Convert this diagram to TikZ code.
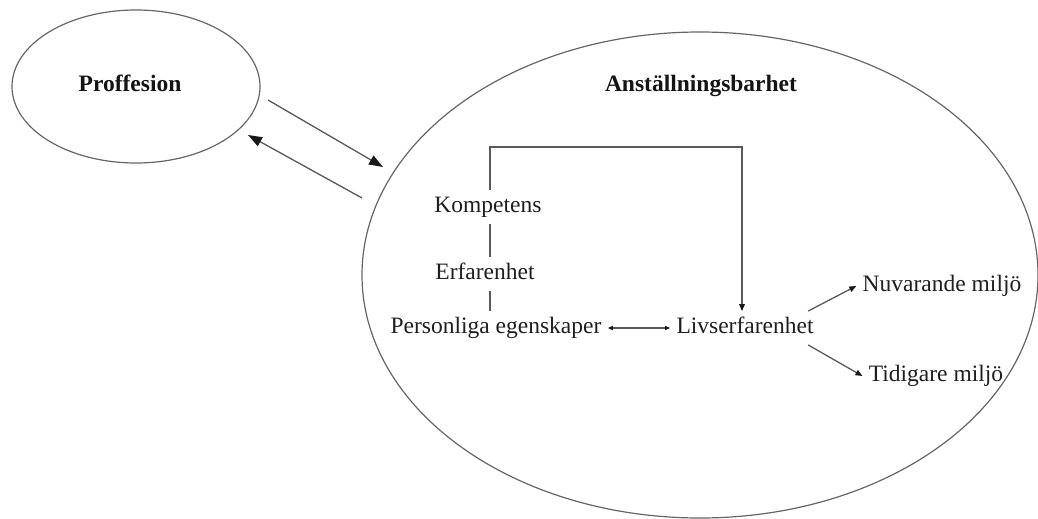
\documentclass[tikz,border=0pt]{standalone}
\usepackage{fontspec}
\setmainfont{Liberation Serif}
\usetikzlibrary{shapes.geometric,arrows.meta}
\begin{document}
\begin{tikzpicture}[x=0.5pt,y=-0.5pt,
  line/.style={draw=black!65, line width=0.65pt},
  oval/.style={ellipse, draw=black!60, line width=0.6pt, inner sep=0pt},
  lbl/.style={font=\fontsize{11.75}{14}\selectfont, text=black!88, inner sep=3pt, text height=8pt, text depth=2.5pt},
  title/.style={font=\bfseries\fontsize{11.75}{14}\selectfont, text=black!92},
  bigtip/.style={-{Triangle[length=7pt,width=5pt,color=black!90]}},
  smalltip/.style={-{Triangle[length=3.5pt,width=2.8pt,color=black!90]}},
  bothtip/.style={{Triangle[length=2.5pt,width=2pt,color=black!90]}-{Triangle[length=2.5pt,width=2pt,color=black!90]}},
]
\useasboundingbox (0,0) rectangle (1038,519);
\fill[white] (0,0) rectangle (1038,519);
% ellipses
\node[oval, minimum width=124pt, minimum height=76.5pt] (prof) at (136,86.5) {};
\node[oval, minimum width=338pt, minimum height=243pt] (anst) at (700,275) {};
% titles
\node[title] (proft) at (130,83) {Proffesion};
\node[title] (anstt) at (701,86) {Anställningsbarhet};
% labels
\node[lbl] (komp) at (488,207) {Kompetens};
\node[lbl] (erf) at (485,274) {Erfarenhet};
\node[lbl] (pers) at (496,328) {Personliga egenskaper};
\node[lbl] (liv) at (745,328) {Livserfarenhet};
\node[lbl] (nuv) at (942,286) {Nuvarande miljö};
\node[lbl] (tid) at (936,376) {Tidigare miljö};
% helper coordinates
\coordinate (stem) at (490,0);
\coordinate (top) at (742,147);
\coordinate (a1s) at (268,100);
\coordinate (a1e) at (383,167);
\coordinate (a2s) at (362,198);
\coordinate (a2e) at (248,135);
% connectors between ellipses
\draw[line, bigtip] (a1s) -- (a1e);
\draw[line, bigtip] (a2s) -- (a2e);
% stem lines
\draw[line] (komp.south -| stem) -- (erf.north -| stem);
\draw[line] (erf.south -| stem) -- (pers.north -| stem);
% bracket
\draw[line, smalltip] (komp.north -| stem) -- (stem |- top) -- (top) -- (top |- liv.north);
% double arrow
\draw[line, bothtip] (pers.east) -- (liv.west);
% branches
\draw[line, smalltip] (liv.15) -- (nuv.west);
\draw[line, smalltip] (liv.-15) -- (tid.west);
\end{tikzpicture}
\end{document}
